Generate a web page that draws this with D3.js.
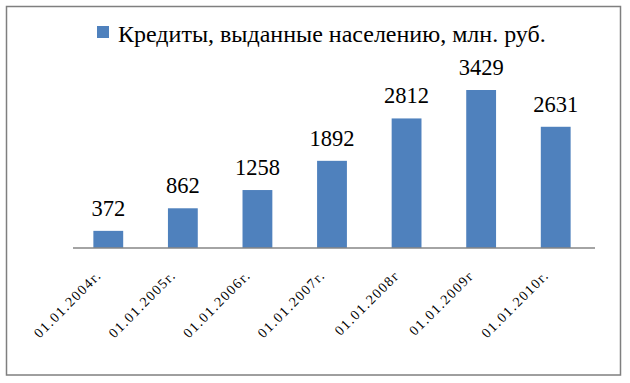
<!DOCTYPE html>
<html>
<head>
    <meta charset="UTF-8">
    <title>Кредиты, выданные населению</title>
    <script src="https://d3js.org/d3.v7.min.js"></script>
    <style>
        body {
            margin: 0;
            background: #ffffff;
        }
        svg {
            display: block;
        }
    </style>
</head>
<body>
<svg width="630" height="383"></svg>

<script>
    // data
    const dates = ["01.01.2004г.", "01.01.2005г.", "01.01.2006г.", "01.01.2007г.",
        "01.01.2008г", "01.01.2009г", "01.01.2010г."];
    const credits = [372, 862, 1258, 1892, 2812, 3429, 2631];
    const seriesName = "Кредиты, выданные населению, млн. руб.";

    const barColor = "#4f81bd";
    const fontName = "Liberation Serif";

    let svg = d3.select("svg");

    // outer frame
    svg.append("rect")
        .attr("x", 6.5)
        .attr("y", 6.5)
        .attr("width", 614)
        .attr("height", 368.5)
        .attr("fill", "white")
        .attr("stroke", "#7f7f7f")
        .attr("stroke-width", 1.5);

    // scales
    const x = d3.scaleBand()
        .domain(dates)
        .range([71, 593])
        .paddingInner(0.6)
        .paddingOuter(0.3);

    const y = d3.scaleLinear()
        .domain([0, 4000])
        .range([248, 63.7]);

    // legend
    let legend = svg.append("g").attr("class", "legend");
    legend.append("rect")
        .attr("x", 97)
        .attr("y", 26)
        .attr("width", 12)
        .attr("height", 12)
        .attr("fill", barColor);
    legend.append("text")
        .attr("x", 118)
        .attr("y", 41.5)
        .attr("font-family", fontName)
        .attr("font-size", 24)
        .text(seriesName);

    // bars
    svg.append("g").attr("class", "bars")
        .selectAll("rect")
        .data(dates)
        .enter()
        .append("rect")
        .attr("x", d => x(d))
        .attr("width", x.bandwidth())
        .attr("y", (d, i) => y(credits[i]))
        .attr("height", (d, i) => y(0) - y(credits[i]))
        .attr("fill", barColor);

    // value labels
    svg.append("g").attr("class", "values")
        .selectAll("text")
        .data(dates)
        .enter()
        .append("text")
        .attr("x", d => x(d) + x.bandwidth() / 2)
        .attr("y", (d, i) => y(credits[i]) - 15)
        .attr("text-anchor", "middle")
        .attr("font-family", fontName)
        .attr("font-size", 22.5)
        .text((d, i) => credits[i]);

    // x axis
    let xAxis = svg.append("g")
        .attr("transform", "translate(0," + y(0) + ")")
        .call(d3.axisBottom(x).tickSize(0).tickPadding(0));
    xAxis.attr("font-family", fontName).attr("font-size", 14);
    xAxis.select(".domain")
        .attr("stroke", "#868686")
        .attr("stroke-width", 1.3)
        .attr("d", "M73,0H595");
    xAxis.selectAll(".tick text")
        .attr("text-anchor", "end")
        .attr("dy", 0)
        .attr("y", 0)
        .attr("transform", "translate(-6,28) rotate(-45)")
        .attr("letter-spacing", 1.5)
        .attr("fill", "#000");
</script>
</body>
</html>
